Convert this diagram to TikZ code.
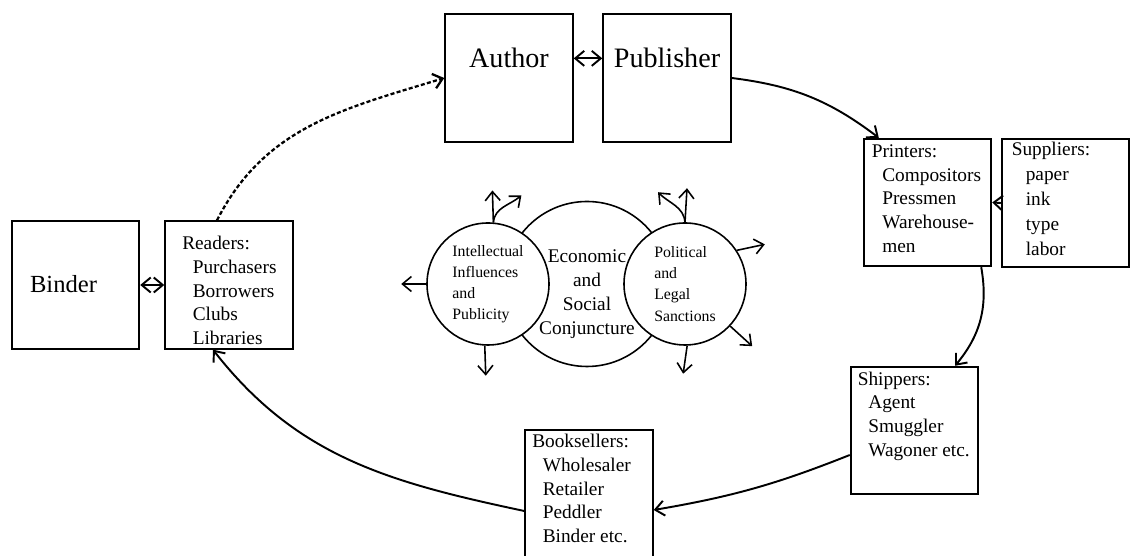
\documentclass[tikz,border=0pt]{standalone}
\usepackage{fontspec}
\setmainfont{Liberation Serif}
\usetikzlibrary{arrows.meta}

\newcommand{\indnt}{\hspace*{6pt}}

\begin{document}
\begin{tikzpicture}[>={Straight Barb[length=1.8mm,width=3mm]}, line width=1.1pt,
  box/.style={draw, rectangle, minimum width=2.55cm, minimum height=2.55cm, inner sep=0pt},
  lst/.style={anchor=north west, align=left, inner sep=0pt, font=\fontsize{11}{13.5}\selectfont},
  ring/.style={draw, circle, fill=white, line width=0.9pt, inner sep=0pt, align=left, font=\fontsize{9}{12}\selectfont},
  spoke/.style={->, line width=0.9pt}]
  \useasboundingbox (0,0) rectangle (22.62,11.12);

  \node[box] (author) at (10.18, 9.56) {};
  \node[anchor=base, font=\fontsize{16}{19}\selectfont] (author-txt) at ([yshift=0.2cm]author.center) {Author};
  \node[box] (publisher) at (13.34, 9.56) {};
  \node[anchor=base, font=\fontsize{16}{19}\selectfont] (publisher-txt) at ([yshift=0.2cm]publisher.center) {Publisher};

  \node[box] (printers) at (18.55, 7.07) {};
  \node[lst] (printers-txt) at ([shift={(0.16,-0.12)}]printers.north west)
    {Printers:\\\indnt Compositors\\\indnt Pressmen\\\indnt Warehouse-\\\indnt men};
  \node[box] (suppliers) at (21.31, 7.06) {};
  \node[lst, font=\fontsize{11}{14.2}\selectfont] (suppliers-txt) at ([shift={(0.2,-0.06)}]suppliers.north west)
    {Suppliers:\\\indnt\hspace*{2pt}paper\\\indnt\hspace*{2pt}ink\\\indnt\hspace*{2pt}type\\\indnt\hspace*{2pt}labor};

  \node[box] (binder) at (1.51, 5.42) {};
  \node[anchor=base, font=\fontsize{14}{17}\selectfont] (binder-txt) at ([shift={(-0.24,-0.16)}]binder.center) {Binder};
  \node[box] (readers) at (4.58, 5.42) {};
  \node[lst] (readers-txt) at ([shift={(0.34,-0.3)}]readers.north west)
    {Readers:\\\indnt Purchasers\\\indnt Borrowers\\\indnt Clubs\\\indnt Libraries};

  \node[box] (shippers) at (18.29, 2.51) {};
  \node[lst] (shippers-txt) at ([shift={(0.14,-0.1)}]shippers.north west)
    {Shippers:\\\indnt Agent\\\indnt Smuggler\\\indnt Wagoner etc.};
  \node[box] (booksellers) at (11.78, 1.24) {};
  \node[lst] (booksellers-txt) at ([shift={(0.14,-0.08)}]booksellers.north west)
    {Booksellers:\\\indnt Wholesaler\\\indnt Retailer\\\indnt Peddler\\\indnt Binder etc.};

  % the three circles in the middle
  \node[ring, minimum size=3.3cm] (econ) at (11.74, 5.44) {};
  \node[ring, minimum size=2.44cm] (intel) at (9.76, 5.44) {Intellectual\\Influences\\and\\Publicity};
  \node[ring, minimum size=2.44cm] (polit) at (13.70, 5.44) {Political\\and\\Legal\\Sanctions};
  \node[align=center, inner sep=0pt, font=\fontsize{11}{13.6}\selectfont] (econ-txt) at ([yshift=-0.2cm]econ.center)
    {Economic\\and\\Social\\Conjuncture};

  \draw[spoke] (intel.180) -- ++(-0.5,0);
  \draw[spoke] (intel.85) -- ++(-0.02,0.64);
  \draw[spoke] (intel.85) to[out=85,in=220] ++(0.56,0.54);
  \draw[spoke] (intel.267) -- ++(0.02,-0.6);
  \draw[spoke] (polit.90) to[out=95,in=-45] ++(-0.54,0.6);
  \draw[spoke] (polit.90) -- ++(0.04,0.68);
  \draw[spoke] (polit.33) -- ++(0.56,0.12);
  \draw[spoke] (polit.-43) -- ++(0.44,-0.4);
  \draw[spoke] (polit.-88) -- ++(-0.08,-0.56);

  % the trade cycle
  \draw[<->] (author-txt -| author.east) -- (author-txt -| publisher.west);
  \draw[->] (publisher.east) to[bend left=15] ([xshift=0.32cm]printers.north west);
  \draw[->] (suppliers.west) -- (printers.east);
  \draw[->] ([xshift=-0.22cm]printers.south east) to[bend left=25] ([xshift=0.81cm]shippers.north);
  \draw[->] ([yshift=-0.49cm]shippers.west) to[bend left=6] ([yshift=-0.32cm]booksellers.east);
  \draw[->] ([yshift=-0.34cm]booksellers.west) to[out=168,in=-52] ([xshift=-0.32cm]readers.south);
  \draw[->, line width=1.3pt, dash pattern=on 2.3pt off 1.3pt] ([xshift=-0.24cm]readers.north) to[out=63,in=-163] (author.west);
  \draw[<->] (binder.east) -- (readers.west);
\end{tikzpicture}
\end{document}
